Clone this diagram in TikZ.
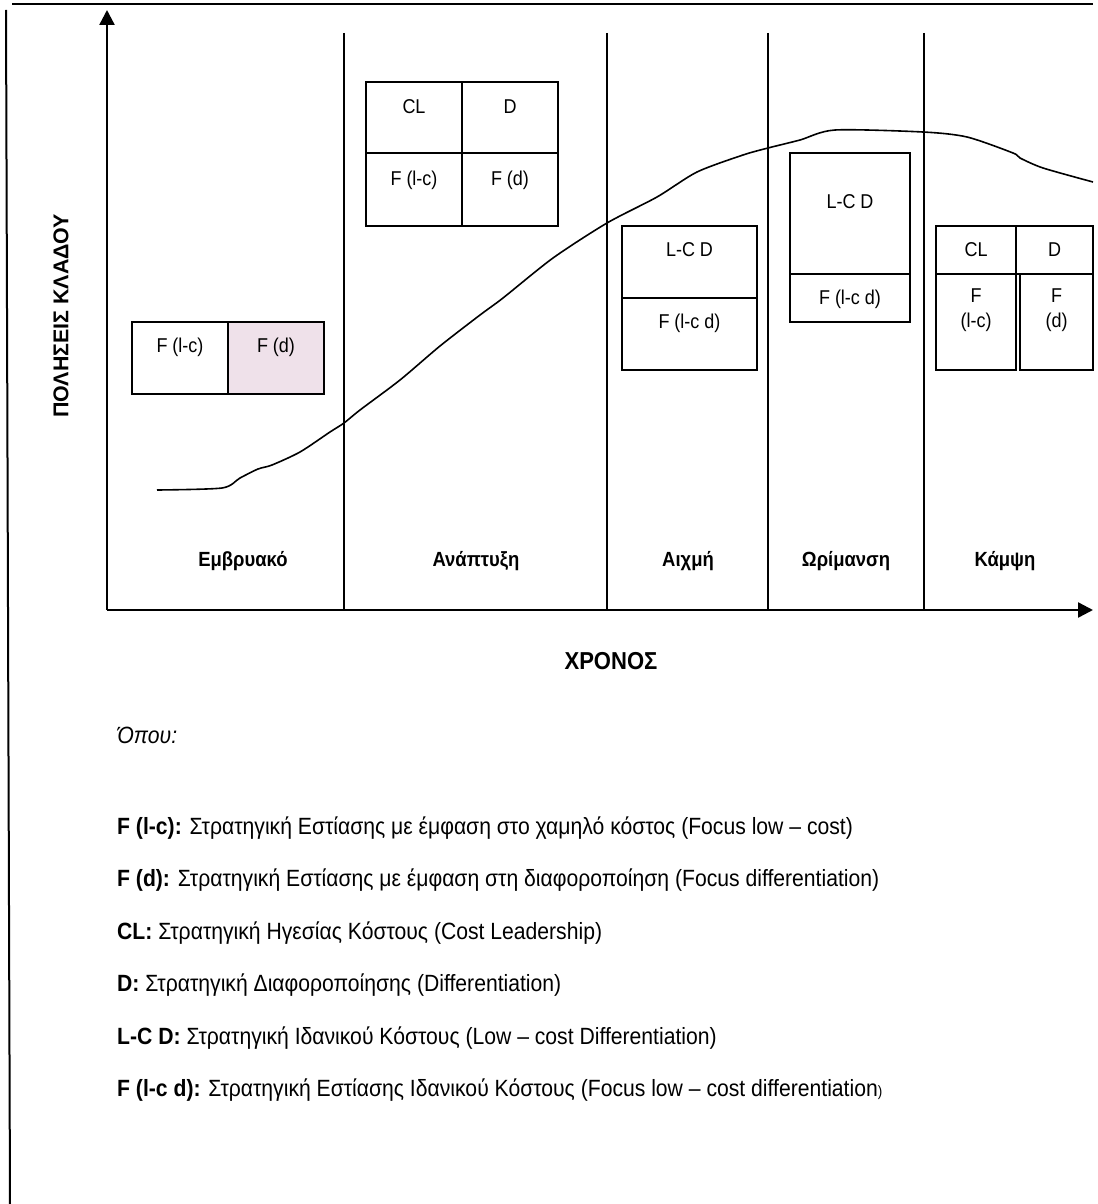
\documentclass[tikz,border=0pt]{standalone}
\usepackage{fontspec}
\setmainfont{Liberation Sans}[FakeStretch=0.9]
\newfontfamily\ywide{Liberation Sans}
\usetikzlibrary{arrows.meta}
\definecolor{pinkfill}{RGB}{239,225,234}
\tikzset{
  frameline/.style={line width=2.8pt},
  axisline/.style={line width=2.4pt,-{Triangle[length=15pt,width=15pt]}},
  divline/.style={line width=1.8pt},
  cellline/.style={line width=2pt},
  curveline/.style={line width=1.6pt},
  celltext/.style={font=\fontsize{20}{22}\selectfont,align=center,inner sep=0},
  stagetext/.style={font=\bfseries\fontsize{20.5}{24}\selectfont,inner sep=0},
  legendtext/.style={anchor=west,font=\fontsize{23.5}{27}\selectfont,inner sep=0},
}
\begin{document}
\begin{tikzpicture}[x=1pt,y=-1pt]
\useasboundingbox (0,0) rectangle (1097,1204);
% frame
\coordinate (ftl) at (12,4); \coordinate (ftr) at (1093,4);
\coordinate (flt) at (6,10); \coordinate (flb) at (10,1204);
\draw[frameline] (ftl) -- (ftr);
\draw[line width=2pt] (flt) -- (flb);
% axes
\coordinate (O) at (107,610);
\coordinate (ytip) at (107,10);
\coordinate (xtip) at (1093,610);
\draw[axisline] (O) -- (ytip);
\draw[axisline] (O) -- (xtip);
% stage dividers
\foreach \xx/\nm in {344/da,607/db,768/dc,924/dd}{
  \coordinate (\nm t) at (\xx,33);
  \coordinate (\nm b) at (\xx,610);
  \draw[divline] (\nm t) -- (\nm b);
}
% curve
\draw[curveline] plot[smooth,tension=0.45] coordinates {
 (157,490) (222,488) (240,478) (258,469) (272,465) (300,452) (330,432)
 (344,423) (360,410) (400,380) (440,346) (480,315) (503,298) (553,258)
 (607,223) (657,197) (697,172) (743,155) (768,148) (800,140) (835,130)
 (923,132) (967,137) (1013,153) (1020,158) (1043,168) (1093,182)};
% Embryonic box
\fill[pinkfill] (228,322) rectangle (324,394);
\draw[cellline] (132,322) rectangle (324,394);
\draw[cellline] (228,322) -- (228,394);
\node[celltext] (e1) at (180,347) {F (l-c)};
\node[celltext] (e2) at (276,347) {F (d)};
% Growth box
\draw[cellline] (366,82) rectangle (558,226);
\draw[cellline] (462,82) -- (462,226);
\draw[cellline] (366,153) -- (558,153);
\node[celltext] (g1) at (414,107) {CL};
\node[celltext] (g2) at (510,107) {D};
\node[celltext] (g3) at (414,180) {F (l-c)};
\node[celltext] (g4) at (510,180) {F (d)};
% Peak box
\draw[cellline] (622,226) rectangle (757,370);
\draw[cellline] (622,298) -- (757,298);
\node[celltext] (p1) at (689.5,250) {L-C D};
\node[celltext] (p2) at (689.5,323) {F (l-c d)};
% Maturity box
\draw[cellline] (790,153) rectangle (910,322);
\draw[cellline] (790,274) -- (910,274);
\node[celltext] (m1) at (850,202) {L-C D};
\node[celltext] (m2) at (850,299) {F (l-c d)};
% Decline box
\draw[cellline] (936,226) rectangle (1016,370);
\draw[cellline] (1016,226) rectangle (1093,274);
\draw[cellline] (1020,274) rectangle (1093,370);
\draw[cellline] (936,274) -- (1016,274);
\node[celltext] (k1) at (976,250) {CL};
\node[celltext] (k2) at (1054.5,250) {D};
\node[celltext] (k3) at (976,310) {F\\[3pt](l-c)};
\node[celltext] (k4) at (1056.5,310) {F\\[3pt](d)};
% stage labels
\node[stagetext] (s1) at (243,561) {Εμβρυακό};
\node[stagetext] (s2) at (476,561) {Ανάπτυξη};
\node[stagetext] (s3) at (688,561) {Αιχμή};
\node[stagetext] (s4) at (846,561) {Ωρίμανση};
\node[stagetext] (s5) at (1005,561) {Κάμψη};
% axis labels
\node[font=\bfseries\fontsize{24.5}{28}\selectfont,inner sep=0] (xlab) at (611,661) {ΧΡΟΝΟΣ};
\node[rotate=90,font=\ywide\bfseries\fontsize{21.4}{24}\selectfont,inner sep=0] (ylab) at (61,316) {ΠΟΛΗΣΕΙΣ ΚΛΑΔΟΥ};
% legend
\node[legendtext] (l0) at (117,735) {\itshape Όπου:};
\node[legendtext] (l1) at (117,828) {\textbf{F (l-c):} Στρατηγική Εστίασης με έμφαση στο χαμηλό κόστος (Focus low – cost)};
\node[legendtext] (l2) at (117,880) {\textbf{F (d):} Στρατηγική Εστίασης με έμφαση στη διαφοροποίηση (Focus differentiation)};
\node[legendtext] (l3) at (117,933) {\textbf{CL:} Στρατηγική Ηγεσίας Κόστους (Cost Leadership)};
\node[legendtext] (l4) at (117,985) {\textbf{D:} Στρατηγική Διαφοροποίησης (Differentiation)};
\node[legendtext] (l5) at (117,1038) {\textbf{L-C D:} Στρατηγική Ιδανικού Κόστους (Low – cost Differentiation)};
\node[legendtext] (l6) at (117,1090) {\textbf{F (l-c d):} Στρατηγική Εστίασης Ιδανικού Κόστους (Focus low – cost differentiation{\fontsize{15}{17}\selectfont)}};
\end{tikzpicture}
\end{document}
